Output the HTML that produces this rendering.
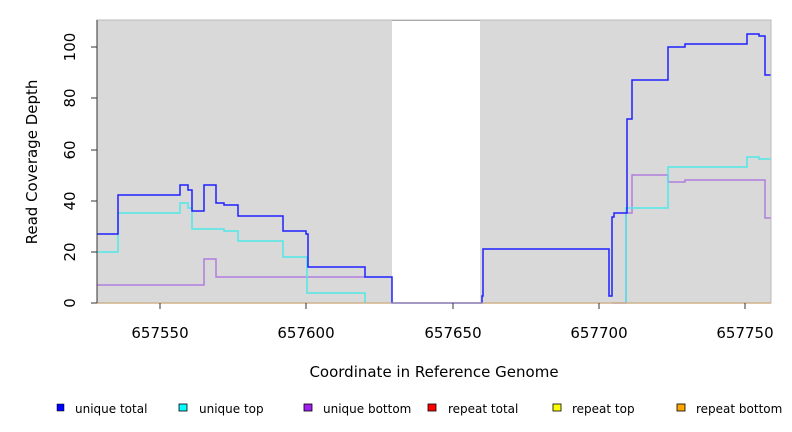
<!DOCTYPE html>
<html><head><style>body{margin:0;background:#fff}svg{display:block}text{font-family:"DejaVu Sans","Liberation Sans",sans-serif}</style></head><body>
<svg width="792" height="432" viewBox="0 0 792 432">
<rect x="97" y="20" width="674" height="283" fill="#d9d9d9"/>
<rect x="392" y="21" width="88" height="282" fill="#fff"/>
<line x1="392" y1="20.5" x2="480" y2="20.5" stroke="#999"/>
<g fill="none" stroke-width="1.5">
<polyline stroke="#b07fe0" points="97,285 204,285 204,259 216,259 216,277 365,277"/>
<polyline stroke="#b07fe0" points="612,303 626,303 626,213 632,213 632,175 668,175 668,182 685,182 685,180 765,180 765,218 771,218"/>
<polyline stroke="#50e8e8" points="97,252 118,252 118,213 180,213 180,203 188,203 188,208 192,208 192,229 224,229 224,231 238,231 238,241 283,241 283,257 307,257 307,293 365,293 365,303"/>
<polyline stroke="#50e8e8" points="626,303 626,208 668,208 668,167 747,167 747,157 759,157 759,159 771,159"/>
<line x1="97" y1="303" x2="771" y2="303" stroke="#f5a030"/>
<polyline stroke="#2020ff" points="97,234 118,234 118,195 180,195 180,185 188,185 188,190 192,190 192,211 204,211 204,185 216,185 216,203 224,203 224,205 238,205 238,216 283,216 283,231 306,231 306,234 308,234 308,267 365,267 365,277 392,277 392,303 480,303 482,303 482,296 483,296 483,249 609,249 609,296 612,296 612,217 614,217 614,213 626,213 626,213 627,213 627,119 632,119 632,80 668,80 668,47 685,47 685,44 747,44 747,34 759,34 759,36 765,36 765,75 771,75"/>
</g>
<rect x="97" y="20" width="674" height="283" fill="none" stroke="#bbb"/>
<g stroke="#333">
<line x1="97" y1="20" x2="97" y2="303"/>
<line x1="91" y1="303" x2="97" y2="303"/><line x1="91" y1="252" x2="97" y2="252"/><line x1="91" y1="201" x2="97" y2="201"/><line x1="91" y1="150" x2="97" y2="150"/><line x1="91" y1="98" x2="97" y2="98"/><line x1="91" y1="47" x2="97" y2="47"/>
<line x1="160" y1="303" x2="160" y2="309"/><line x1="306" y1="303" x2="306" y2="309"/><line x1="453" y1="303" x2="453" y2="309"/><line x1="599" y1="303" x2="599" y2="309"/><line x1="745" y1="303" x2="745" y2="309"/>
</g>
<g font-size="15" text-anchor="middle" fill="#000">
<text transform="translate(75,303) rotate(-90)">0</text>
<text transform="translate(75,252) rotate(-90)">20</text>
<text transform="translate(75,201) rotate(-90)">40</text>
<text transform="translate(75,150) rotate(-90)">60</text>
<text transform="translate(75,98) rotate(-90)">80</text>
<text transform="translate(75,47) rotate(-90)">100</text>
<text x="160" y="338">657550</text><text x="306" y="338">657600</text><text x="453" y="338">657650</text><text x="599" y="338">657700</text><text x="745" y="338">657750</text>
<text x="434" y="377">Coordinate in Reference Genome</text>
<text transform="translate(37,162) rotate(-90)">Read Coverage Depth</text>
</g>
<g font-size="12" fill="#000">
<rect x="57" y="404" width="7" height="7" fill="#0000ff" stroke="#000" stroke-width="0.5"/><text x="75" y="413">unique total</text>
<rect x="179" y="404" width="8" height="7" fill="#00ffff" stroke="#000" stroke-width="0.8"/><text x="199" y="413">unique top</text>
<rect x="304" y="404" width="8" height="7" fill="#a020f0" stroke="#000" stroke-width="0.8"/><text x="323" y="413">unique bottom</text>
<rect x="428" y="404" width="8" height="7" fill="#ff0000" stroke="#000" stroke-width="0.8"/><text x="448" y="413">repeat total</text>
<rect x="553" y="404" width="8" height="7" fill="#ffff00" stroke="#000" stroke-width="0.8"/><text x="572" y="413">repeat top</text>
<rect x="677" y="404" width="8" height="7" fill="#ffa500" stroke="#000" stroke-width="0.8"/><text x="696" y="413">repeat bottom</text>
</g>
</svg>
</body></html>
